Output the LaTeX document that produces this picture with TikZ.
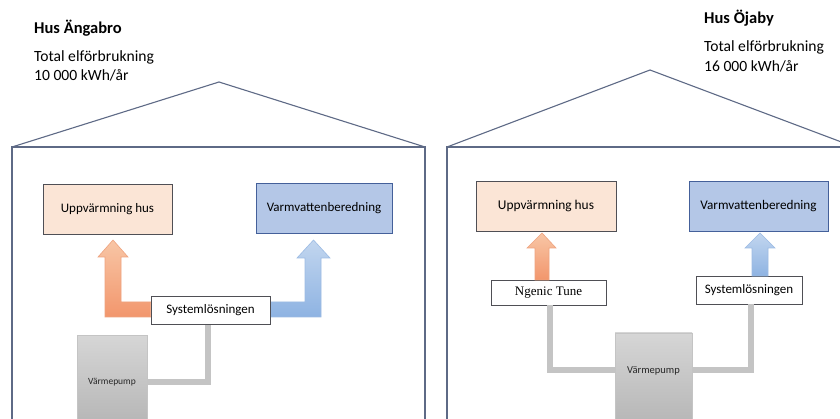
\documentclass[tikz,border=0pt]{standalone}
\usepackage{fontspec}
\setmainfont{Carlito}
\newfontfamily\timesf{Liberation Serif}
\usetikzlibrary{calc}
\definecolor{houseline}{HTML}{5E6A86}
\definecolor{peach}{HTML}{FBE5D6}
\definecolor{lblue}{HTML}{B4C7E7}
\definecolor{boxline}{HTML}{4F4F55}
\definecolor{vvline}{HTML}{44609A}
\definecolor{orTop}{HTML}{F8C6A6}
\definecolor{orBot}{HTML}{F2966C}
\definecolor{orLine}{HTML}{EFA37F}
\definecolor{blTop}{HTML}{C2D6EF}
\definecolor{blBot}{HTML}{8EB3E2}
\definecolor{blLine}{HTML}{9CBBE4}
\definecolor{vpTop}{HTML}{D6D6D6}
\definecolor{vpBot}{HTML}{B4B4B4}
\definecolor{vpLine}{HTML}{C4C4C4}
\definecolor{pipec}{HTML}{C4C4C4}
\tikzset{
  house/.style={draw=houseline, line width=1.1pt},
  heatbox/.style={draw=boxline, fill=peach, line width=0.8pt, font=\fontsize{13}{15}\selectfont},
  waterbox/.style={draw=vvline, fill=lblue, line width=0.8pt, font=\fontsize{13}{15}\selectfont},
  sysbox/.style={draw=boxline, fill=white, line width=0.8pt, font=\fontsize{13}{15}\selectfont},
  pumpbox/.style={draw=vpLine, top color=vpTop, bottom color=vpBot, line width=0.8pt},
  pumptext/.style={font=\fontsize{9.5}{11}\selectfont, text=black!85},
  orarrow/.style={draw=orLine, top color=orTop, bottom color=orBot, line width=0.6pt},
  blarrow/.style={draw=blLine, top color=blTop, bottom color=blBot, line width=0.6pt},
  pipe/.style={draw=pipec, line width=5.5pt},
  titletext/.style={anchor=base west, inner sep=0pt, font=\fontsize{16.5}{18}\selectfont\bfseries},
  bodytext/.style={anchor=base west, inner sep=0pt, font=\fontsize{15.6}{18}\selectfont},
}
\begin{document}
\begin{tikzpicture}[x=1pt,y=-1pt]
\useasboundingbox (0,0) rectangle (840,419);
\fill[white] (0,0) rectangle (840,419);

% ---------- Left house ----------
\node[titletext] (t1) at (34,34) {Hus Ängabro};
\node[bodytext] (b1a) at (34,62) {Total elförbrukning};
\node[bodytext] (b1b) at (34,81) {10 000 kWh/år};
\coordinate (L1) at (12,147);
\coordinate (R1) at (425,147);
\coordinate (A1) at (219,82);
\draw[house] (12,425) -- (L1) -- (R1) -- (425,425);
\draw[house] (L1) -- (A1) -- (R1);

\node[heatbox, minimum width=129pt, minimum height=50pt] (up1) at (107.5,209) {Uppvärmning hus};
\node[waterbox, minimum width=136pt, minimum height=50pt] (vv1) at (324,208) {Varmvattenberedning};
\node[sysbox, minimum width=119pt, minimum height=28pt] (sys1) at (210.5,310) {Systemlösningen};
\node[pumpbox, minimum width=70pt, minimum height=94pt, pumptext] (vp1) at (112,382) {Värmepump};

\draw[pipe] ([xshift=-2.5pt]sys1.south) |- (vp1.east);

\draw[orarrow] (sys1.west |- 0,302) -- (121,302) -- (121,257) -- (128,257) -- (113,240)
  -- (98,257) -- (105,257) -- (105,317) -- (sys1.west |- 0,317) -- cycle;
\draw[blarrow] (sys1.east |- 0,302) -- (305,302) -- (305,258) -- (297,258) -- (313.5,240)
  -- (330,258) -- (321,258) -- (321,317) -- (sys1.east |- 0,317) -- cycle;
\node[sysbox, minimum width=119pt, minimum height=28pt] at (sys1) {Systemlösningen};

% ---------- Right house ----------
\node[titletext] (t2) at (704,24) {Hus Öjaby};
\node[bodytext] (b2a) at (704,52) {Total elförbrukning};
\node[bodytext] (b2b) at (704,72) {16 000 kWh/år};
\coordinate (L2) at (447,147);
\coordinate (A2) at (650,70);
\draw[house] (447,425) -- (L2) -- (850,147);
\draw[house] (L2) -- (A2) -- (860,149);

\node[heatbox, minimum width=140pt, minimum height=50pt, font=\fontsize{13.4}{15}\selectfont] (up2) at (546,206) {Uppvärmning hus};
\node[waterbox, minimum width=139pt, minimum height=50pt, font=\fontsize{13.2}{15}\selectfont] (vv2) at (758.5,206) {Varmvattenberedning};
\node[sysbox, minimum width=115pt, minimum height=25pt, font=\timesf\fontsize{13}{15}\selectfont] (ng) at (548.5,292.5) {Ngenic Tune};
\node[sysbox, minimum width=106pt, minimum height=28pt] (sys2) at (749,290) {Systemlösningen};
\node[pumpbox, minimum width=77pt, minimum height=97pt] (vp2) at (653.5,381.5) {};
\node[pumptext, font=\fontsize{10.5}{12}\selectfont] (vp2t) at (653.5,371) {Värmepump};

\coordinate (py) at (0,370);
\draw[pipe] ([xshift=1.5pt]ng.south) |- (vp2.west |- py);
\draw[pipe] ([xshift=2pt]sys2.south) |- (vp2.east |- py);

\draw[orarrow] (535,280) -- (535,248) -- (527,248) -- (542,233) -- (556,248) -- (549,248) -- (549,280) -- cycle;
\draw[blarrow] (752,276) -- (752,248) -- (745,248) -- (760,233) -- (775,248) -- (768,248) -- (768,276) -- cycle;
\end{tikzpicture}
\end{document}
